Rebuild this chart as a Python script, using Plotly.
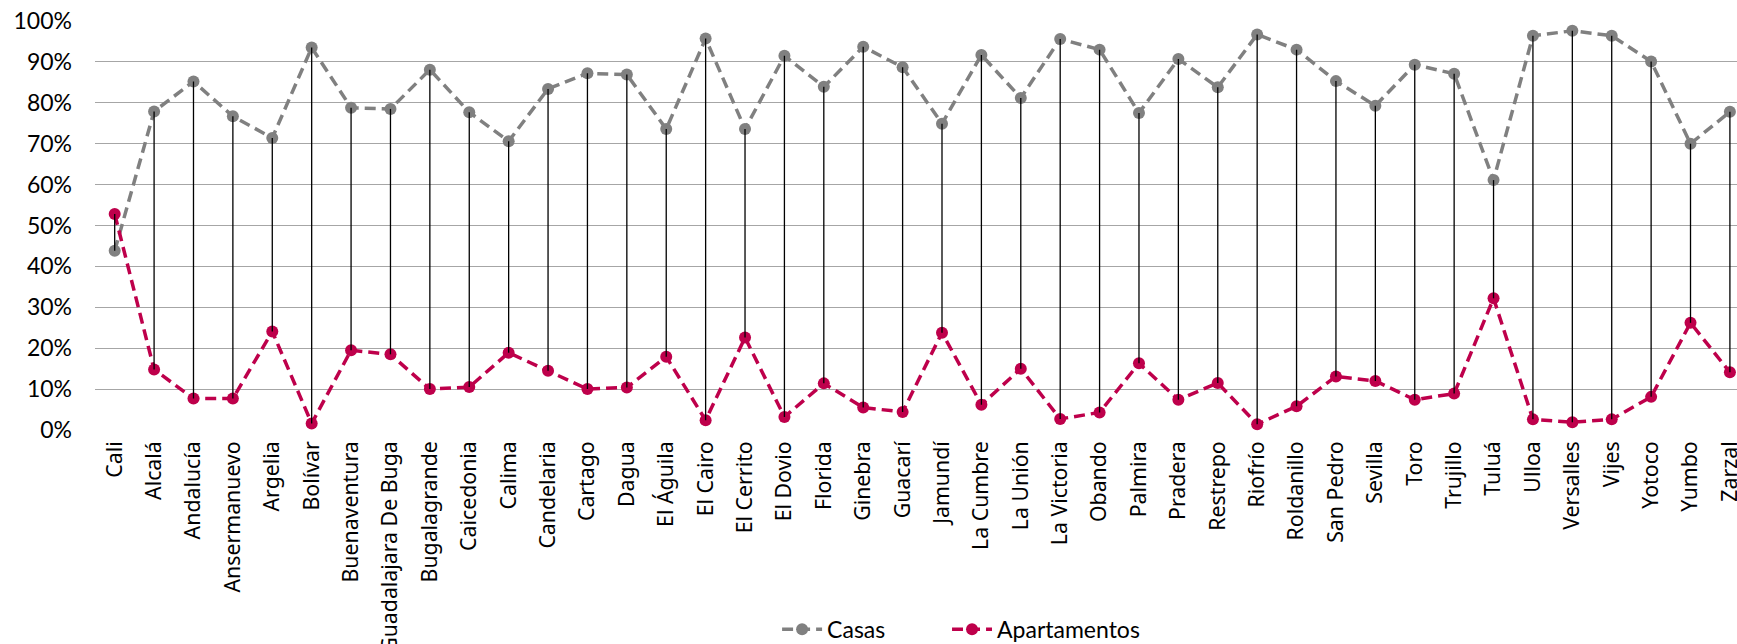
import plotly.graph_objects as go

municipios = [
    "Cali", "Alcalá", "Andalucía", "Ansermanuevo", "Argelia", "Bolívar",
    "Buenaventura", "Guadalajara De Buga", "Bugalagrande", "Caicedonia",
    "Calima", "Candelaria", "Cartago", "Dagua", "El Águila", "El Cairo",
    "El Cerrito", "El Dovio", "Florida", "Ginebra", "Guacarí", "Jamundí",
    "La Cumbre", "La Unión", "La Victoria", "Obando", "Palmira", "Pradera",
    "Restrepo", "Riofrío", "Roldanillo", "San Pedro", "Sevilla", "Toro",
    "Trujillo", "Tuluá", "Ulloa", "Versalles", "Vijes", "Yotoco", "Yumbo",
    "Zarzal",
]

casas = [
    0.438, 0.779, 0.852, 0.767, 0.714, 0.935, 0.788, 0.785, 0.881, 0.777,
    0.706, 0.834, 0.872, 0.869, 0.736, 0.957, 0.736, 0.915, 0.839, 0.937,
    0.887, 0.749, 0.917, 0.812, 0.956, 0.930, 0.775, 0.907, 0.838, 0.967,
    0.930, 0.853, 0.793, 0.893, 0.871, 0.611, 0.964, 0.976, 0.964, 0.901,
    0.700, 0.778,
]

apartamentos = [
    0.528, 0.148, 0.077, 0.077, 0.241, 0.016, 0.195, 0.185, 0.100, 0.105,
    0.189, 0.145, 0.100, 0.104, 0.179, 0.024, 0.226, 0.032, 0.114, 0.055,
    0.044, 0.238, 0.062, 0.150, 0.027, 0.043, 0.163, 0.074, 0.115, 0.014,
    0.058, 0.131, 0.120, 0.074, 0.089, 0.322, 0.026, 0.019, 0.026, 0.081,
    0.262, 0.141,
]

y_ticks = [0, 0.1, 0.2, 0.3, 0.4, 0.5, 0.6, 0.7, 0.8, 0.9, 1.0]
y_tick_text = ["0%", "10%", "20%", "30%", "40%", "50%", "60%", "70%", "80%", "90%", "100%"]

GREY = "#808080"
CRIMSON = "#BE004B"

# high-low connector lines
hx, hy = [], []
for m, c, a in zip(municipios, casas, apartamentos):
    hx += [m, m, None]
    hy += [c, a, None]

fig = go.Figure()

fig.add_trace(go.Scatter(
    x=municipios, y=casas, name="Casas", mode="lines+markers",
    line=dict(color=GREY, width=3.5, dash="11px,6px"),
    marker=dict(color=GREY, size=12),
    cliponaxis=False, legend="legend",
))
fig.add_trace(go.Scatter(
    x=municipios, y=apartamentos, name="Apartamentos", mode="lines+markers",
    line=dict(color=CRIMSON, width=3.5, dash="11px,6px"),
    marker=dict(color=CRIMSON, size=12),
    cliponaxis=False, legend="legend2",
))
fig.add_trace(go.Scatter(
    x=hx, y=hy, mode="lines", showlegend=False, hoverinfo="skip",
    line=dict(color="#000000", width=1.3),
    connectgaps=False, cliponaxis=False,
))

legend_font = dict(family="Lato", size=23, color="#000000")

fig.update_layout(
    width=1737, height=644,
    margin=dict(l=95, r=0, t=21, b=214, pad=0, autoexpand=False),
    paper_bgcolor="white", plot_bgcolor="white",
    showlegend=True,
    legend=dict(
        orientation="h", x=0.4154, xanchor="left", y=-0.487, yanchor="middle",
        font=legend_font, itemwidth=40,
    ),
    legend2=dict(
        orientation="h", x=0.5189, xanchor="left", y=-0.487, yanchor="middle",
        font=legend_font, itemwidth=40,
    ),
    xaxis=dict(
        type="category", categoryorder="array", categoryarray=municipios,
        range=[-0.5, 41.18], automargin=False,
        tickangle=-90, showgrid=False, zeroline=False, showline=False,
        ticks="", ticklabelstandoff=6,
        tickfont=dict(family="Noto Sans", size=21.3, color="#000000"),
    ),
    yaxis=dict(
        range=[0, 1], tickvals=y_ticks, ticktext=y_tick_text, automargin=False,
        showgrid=True, gridcolor="#A6A6A6", gridwidth=1.3,
        zeroline=False, showline=False, ticks="", ticklabelstandoff=22,
        tickfont=dict(family="Lato", size=23, color="#000000"),
    ),
)

fig.write_html(
    "out.html",
    config={"displayModeBar": False},
    post_script="document.body.style.margin='0';document.body.style.overflow='hidden';",
)
